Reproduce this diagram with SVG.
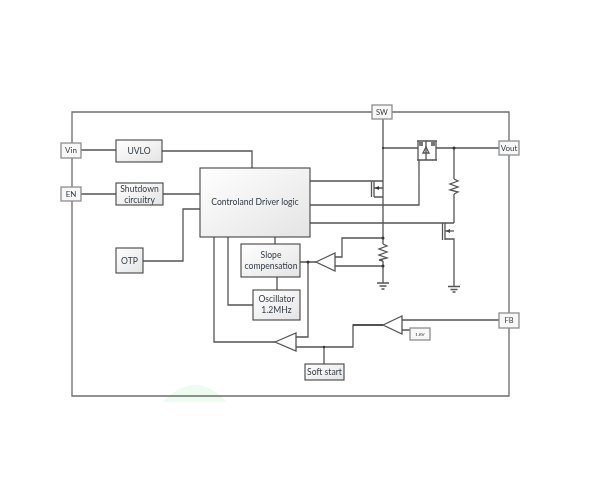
<svg xmlns="http://www.w3.org/2000/svg" width="600" height="500" viewBox="0 0 600 500">
<defs>
<linearGradient id="g" x1="0" y1="0" x2="1" y2="1"><stop offset="0" stop-color="#ffffff"/><stop offset="1" stop-color="#e4e4e4"/></linearGradient>
<filter id="soft" x="-5%" y="-5%" width="110%" height="110%"><feGaussianBlur stdDeviation="0.35"/></filter>
</defs>
<style>
text{font-family:"Lato","Liberation Sans",sans-serif;font-size:8.600px;fill:#333b44;text-anchor:middle}
.box{fill:url(#g);stroke:#444;stroke-width:1.100}
.pin{fill:#f7f7f7;stroke:#8e8e8e;stroke-width:1.300}
.w{fill:none;stroke:#555;stroke-width:1.300}
.f{fill:none;stroke:#6c6c6c;stroke-width:1.300}
.t{fill:#fff;stroke:#555;stroke-width:1.300}
.d{fill:#333;stroke:none}
.m{fill:#777;stroke:none}
</style>
<rect width="600" height="500" fill="#fff"/>
<path d="M163 402 Q195 368 227 402Z" fill="#edfbf0"/>
<g filter="url(#soft)">
<g id="connectors">
<path class="f" d="M372 112H72V396H509V112H392"/>
<path class="w" d="M81 150H116M162 151H252V168M81 194H116M163 194H200M143 261H183V209H200"/>
<path class="w" d="M214 237V342H275M228 237V305H253M275 237V244M277 277V290M300 262H316M308 262V337H296M296 347H353V325H383M324 347V364M402 320H499M402 330H410"/>
<path class="w" d="M335 257H342V238H383M335 266H383"/>
<path class="w" d="M310 181H383M310 205H419V160M310 223H454M383 119V244M383 261V283M383 148H413M438 148H499M454 148V179M454 194V223M445 239H454V286"/>
<path class="w" d="M383 244L387 246L379 249L387 252L379 255L387 258L379 260L383 261"/>
<path class="w" d="M454 179L458 181L450 184L458 187L450 190L458 192L454 194"/>
<path class="w" d="M377 283H389M379.500 286H386.500M381.500 289H384.500M448 286.500H460M450.500 289.500H457.500M452.500 292H455.500"/>
<path class="w" d="M371.500 181V197M374 181V197M374 197H383M374 188H383M442.500 223V240M445 223V240"/>
<path class="d" d="M375 188L379 186V190Z"/>
<path class="d" d="M446 231L450 229V233Z"/>
<path class="w" d="M445 231H454"/>
<path class="w" d="M417 141H437M418 141V148M436 141V148M413 148H418M436 148H438M417 160H437M418 148V160M436 148V160M426 141V160"/>
<path class="w" d="M426 147L429 153H423Z"/>
<path class="m" d="M419 142H423V146H419ZM431 142H435V146H431Z"/>
<circle class="d" cx="308" cy="262" r="1.500"/>
<circle class="d" cx="324" cy="347" r="1.200"/>
<circle class="d" cx="383" cy="238" r="1.500"/>
<circle class="d" cx="383" cy="266" r="1.500"/>
<circle class="d" cx="383" cy="148" r="1"/>
<circle class="d" cx="454" cy="148" r="1.500"/>
<path d="M353 325H383" fill="none" stroke="#222" stroke-width="1"/>
</g>
<g id="comp1"><path class="t" d="M316 262L335 253V271Z"/></g>
<g id="comp2"><path class="t" d="M275 342L296 333V351Z"/></g>
<g id="comp3"><path class="t" d="M383 325L402 316V334Z"/></g>
<g id="sw"><rect class="pin" x="372" y="105" width="20" height="14"/><text x="382" y="115" style="font-size:7.500px">SW</text></g>
<g id="vin"><rect class="pin" x="61" y="143" width="20" height="15"/><text x="71" y="153" style="font-size:8px">Vin</text></g>
<g id="en"><rect class="pin" x="61" y="187" width="20" height="14"/><text x="71" y="197" style="font-size:8px">EN</text></g>
<g id="vout"><rect class="pin" x="499" y="141" width="20" height="14"/><text x="509" y="151" style="font-size:8px">Vout</text></g>
<g id="fb"><rect class="pin" x="499" y="313" width="20" height="15"/><text x="509" y="323" style="font-size:7.500px">FB</text></g>
<g id="uvlo"><rect class="box" x="116" y="140" width="46" height="22"/><text x="139" y="154">UVLO</text></g>
<g id="shutdown"><rect class="box" x="116" y="183" width="47" height="22"/><text x="139.500" y="192">Shutdown</text><text x="139.500" y="202.500">circuitry</text></g>
<g id="control"><rect class="box" x="200" y="168" width="110" height="69"/><text x="255" y="205">Controland Driver logic</text></g>
<g id="otp"><rect class="box" x="116" y="248" width="27" height="25"/><text x="129.500" y="264">OTP</text></g>
<g id="slope"><rect class="box" x="241" y="244" width="59" height="33"/><text x="271" y="258">Slope</text><text x="271" y="269">compensation</text></g>
<g id="oscillator"><rect class="box" x="253" y="290" width="47" height="30"/><text x="276.500" y="302">Oscillator</text><text x="276.500" y="313">1.2MHz</text></g>
<g id="softstart"><rect class="box" x="305" y="364" width="39" height="16"/><text x="324.500" y="375">Soft start</text></g>
<g id="ref"><rect class="pin" x="410" y="328" width="20" height="12"/><text x="420" y="336" style="font-size:4.500px">1.8V</text></g>
</g>
</svg>
